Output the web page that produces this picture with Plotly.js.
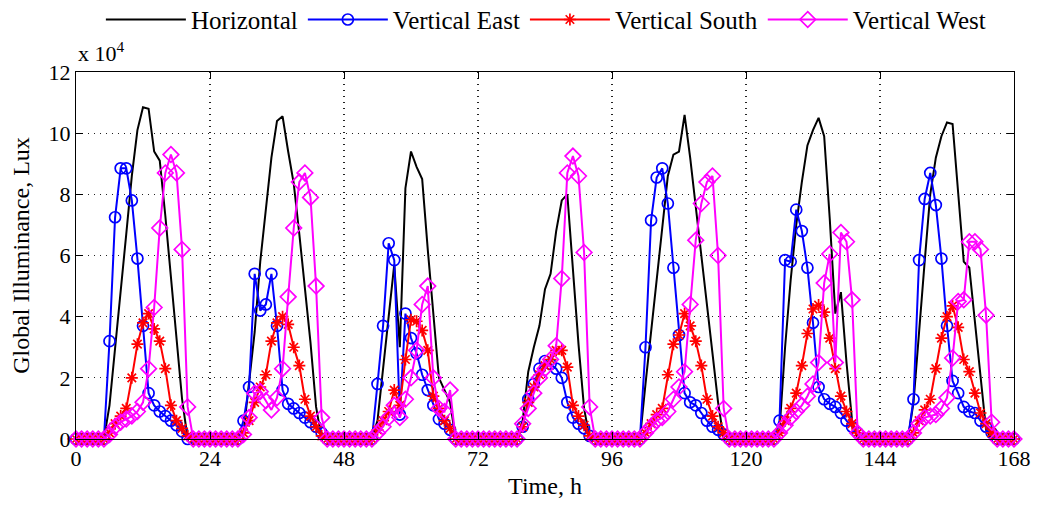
<!DOCTYPE html>
<html>
<head>
<meta charset="utf-8">
<script src="https://cdn.plot.ly/plotly-3.0.1.min.js"></script>
<style>html,body{margin:0;padding:0;background:#fff;}#chart{width:1040px;height:506px;}</style>
</head>
<body>
<div id="chart"></div>
<script>
// Time axis (hours, 0..168)
const hours = Array.from({length: 169}, (_, i) => i);
const xTicks = [0, 24, 48, 72, 96, 120, 144, 168];
const yTicks = [0, 2, 4, 6, 8, 10, 12];

// Global illuminance, units of 10^4 lux
const horizontal = [
  0,0,0,0,0,0,
  1.1,2.9,4.8,6.7,8.6,10.1,10.85,10.8,9.4,9.1,7.3,5.3,3.3,1.3,0,
  0,0,0,0,0,0,0,0,0,
  0.2,1.9,3.5,5.8,7.6,9.2,10.4,10.55,9.4,8.35,6.7,4.9,3.15,1.05,0,
  0,0,0,0,0,0,0,0,0,
  0.6,2.2,4.0,5.7,3.0,8.2,9.4,8.9,8.5,6.2,4.2,2.0,1.6,1.2,0,
  0,0,0,0,0,0,0,0,0,0,0,
  0.6,2.2,3.0,3.7,4.9,5.4,6.8,7.8,8.0,5.4,3.1,1.0,0,
  0,0,0,0,0,0,0,0,0,
  1.8,3.5,5.2,6.9,8.6,9.3,9.4,10.6,9.2,7.6,6.0,4.4,2.8,1.2,0,
  0,0,0,0,0,0,0,0,0,
  0.3,3.0,5.2,7.0,8.4,9.6,10.1,10.5,9.9,7.2,4.1,4.8,2.5,0.6,0,
  0,0,0,0,0,0,0,0,0,
  1.2,3.6,5.8,8.0,9.2,9.9,10.35,10.3,8.0,5.8,5.6,3.9,2.0,0.3,0,
  0,0,0,0
];
const verticalEast = [
  0,0,0,0,0,0,
  3.2,7.25,8.85,8.85,7.8,5.9,3.7,1.5,1.1,0.9,0.75,0.6,0.45,0.25,0,
  0,0,0,0,0,0,0,0,0,
  0.6,1.7,5.4,4.2,4.4,5.4,3.7,1.6,1.15,1.0,0.85,0.7,0.55,0.4,0.2,
  0,0,0,0,0,0,0,0,0,
  1.8,3.7,6.4,5.85,0.8,4.1,3.3,2.8,2.1,1.6,1.1,0.65,0.5,0.3,0,
  0,0,0,0,0,0,0,0,0,0,0,
  0.4,1.3,1.8,2.3,2.55,2.45,2.3,2.0,1.2,0.7,0.5,0.35,0.1,
  0,0,0,0,0,0,0,0,0,
  3.0,7.15,8.55,8.85,7.7,5.6,3.4,1.5,1.2,1.1,0.85,0.6,0.4,0.3,0.15,
  0,0,0,0,0,0,0,0,0,
  0.6,5.85,5.8,7.5,6.8,5.6,3.8,1.7,1.3,1.15,1.05,0.85,0.6,0.4,0.2,
  0,0,0,0,0,0,0,0,0,
  1.3,5.85,7.85,8.7,7.65,5.9,3.7,1.9,1.5,1.05,0.9,0.85,0.6,0.4,0.2,
  0,0,0,0
];
const verticalSouth = [
  0,0,0,0,0,0,
  0.2,0.5,0.75,1.0,2.0,3.1,3.8,4.1,3.6,3.2,2.3,1.1,0.6,0.35,0.1,
  0,0,0,0,0,0,0,0,0,
  0.2,0.6,1.2,1.7,2.1,3.2,3.8,4.0,3.75,3.0,2.4,1.3,0.75,0.4,0.1,
  0,0,0,0,0,0,0,0,0,
  0.3,0.6,0.9,1.6,1.1,2.6,3.9,3.85,3.55,2.9,1.4,1.0,0.6,0.35,0,
  0,0,0,0,0,0,0,0,0,0,0,
  0.4,1.2,1.7,2.1,2.4,2.6,2.9,2.9,2.35,1.1,0.75,0.45,0.1,
  0,0,0,0,0,0,0,0,0,
  0.2,0.5,0.8,1.0,2.1,3.1,3.4,4.1,3.7,3.2,2.4,1.3,0.75,0.4,0.2,
  0,0,0,0,0,0,0,0,0,
  0.2,0.6,1.0,1.5,2.4,3.45,4.25,4.38,4.15,3.3,2.3,1.4,0.9,0.5,0.2,
  0,0,0,0,0,0,0,0,0,
  0.2,0.6,0.95,1.3,2.3,3.3,4.0,4.35,3.65,2.6,2.2,1.5,0.85,0.5,0.2,
  0,0,0,0
];
const verticalWest = [
  0,0,0,0,0,0,
  0.15,0.4,0.55,0.65,0.75,0.9,1.2,2.3,4.3,6.9,8.7,9.3,8.7,6.2,1.05,
  0,0,0,0,0,0,0,0,0,
  0.15,0.7,1.5,1.55,1.25,0.95,1.35,2.3,4.65,6.9,8.4,8.7,7.9,5.0,0.7,
  0,0,0,0,0,0,0,0,0,
  0.2,0.4,0.7,1.1,0.7,1.3,2.0,2.9,4.4,5.0,2.0,1.0,0.9,1.6,0,
  0,0,0,0,0,0,0,0,0,0,0,
  0.5,1.0,1.5,2.0,2.3,2.6,3.05,5.25,8.7,9.25,8.6,6.1,1.05,
  0,0,0,0,0,0,0,0,0,
  0.2,0.4,0.6,0.7,0.9,1.3,1.7,2.2,4.4,6.5,7.7,8.4,8.6,6.0,1.0,
  0,0,0,0,0,0,0,0,0,
  0.2,0.45,0.7,0.9,1.1,1.4,1.8,2.5,5.1,6.05,2.5,6.75,6.45,4.55,0.2,
  0,0,0,0,0,0,0,0,0,
  0.2,0.5,0.7,0.75,0.8,1.0,1.35,2.65,4.5,4.55,6.45,6.45,6.2,4.05,0.55,
  0,0,0,0
];

const FONT = 'Liberation Serif, Times New Roman, serif';

const traces = [
  {x: hours, y: horizontal, name: 'Horizontal', type: 'scatter', mode: 'lines',
   line: {color: '#000000', width: 2}, cliponaxis: false},
  {x: hours, y: verticalEast, name: 'Vertical East', type: 'scatter', mode: 'lines+markers',
   line: {color: '#0000FF', width: 2},
   marker: {symbol: 'circle-open', size: 11, color: '#0000FF', line: {width: 1.7, color: '#0000FF'}},
   cliponaxis: false},
  {x: hours, y: verticalSouth, name: 'Vertical South', type: 'scatter', mode: 'lines+markers',
   line: {color: '#FF0000', width: 2},
   marker: {symbol: 'asterisk-open', size: 10, color: '#FF0000', line: {width: 1.7, color: '#FF0000'}},
   cliponaxis: false},
  {x: hours, y: verticalWest, name: 'Vertical West', type: 'scatter', mode: 'lines+markers',
   line: {color: '#FF00FF', width: 2},
   marker: {symbol: 'diamond-open', size: 12, color: '#FF00FF', line: {width: 1.7, color: '#FF00FF'}},
   cliponaxis: false}
];

const axisCommon = {
  showline: true, linecolor: '#000', linewidth: 1, mirror: 'ticks',
  ticks: 'inside', ticklen: 7, tickcolor: '#000', tickwidth: 1,
  showgrid: true, gridcolor: '#222', griddash: '1px,5px', gridwidth: 1.2,
  zeroline: false, tickfont: {family: FONT, size: 22, color: '#000'}
};

const layout = {
  width: 1040, height: 506,
  margin: {l: 76, r: 26, t: 72, b: 67, autoexpand: false},
  paper_bgcolor: '#fff', plot_bgcolor: '#fff',
  font: {family: FONT, color: '#000'},
  xaxis: Object.assign({}, axisCommon, {
    range: [0, 168], tickmode: 'array', tickvals: xTicks, ticktext: xTicks.map(String),
    title: {text: 'Time, h', font: {family: FONT, size: 24, color: '#000'}, standoff: 6}
  }),
  yaxis: Object.assign({}, axisCommon, {
    range: [0, 12], tickmode: 'array', tickvals: yTicks, ticktext: yTicks.map(String),
    title: {text: 'Global Illuminance, Lux', font: {family: FONT, size: 24, color: '#000'}, standoff: 12}
  }),
  showlegend: true,
  legend: {
    orientation: 'h', xref: 'container', yref: 'container',
    x: 0.097, xanchor: 'left', y: 0.961, yanchor: 'middle',
    font: {family: FONT, size: 25, color: '#000'}, itemwidth: 80,
    bgcolor: 'rgba(0,0,0,0)', borderwidth: 0
  },
  annotations: [{
    xref: 'paper', yref: 'paper', x: 0, y: 1.055, xanchor: 'left', yanchor: 'middle',
    text: 'x 10<sup>4</sup>', showarrow: false, font: {family: FONT, size: 22, color: '#000'}
  }]
};

Plotly.newPlot('chart', traces, layout, {displayModeBar: false, staticPlot: true});
</script>
</body>
</html>
